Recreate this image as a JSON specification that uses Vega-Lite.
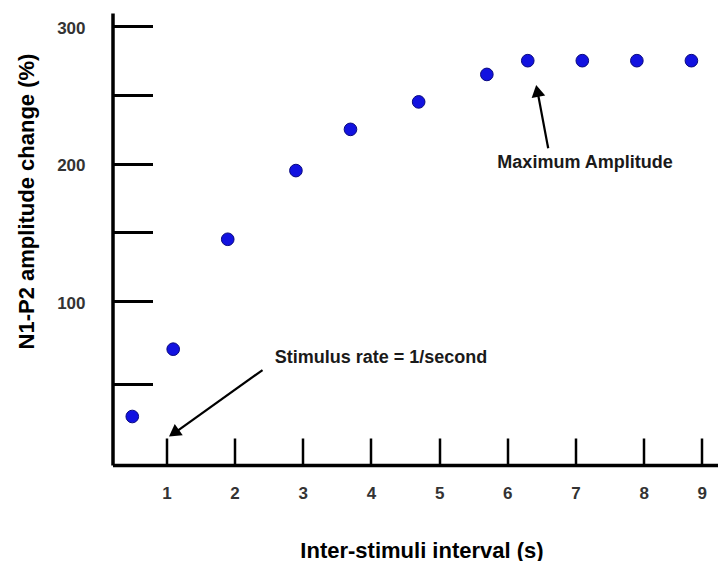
{
  "$schema": "https://vega.github.io/schema/vega-lite/v6.json",
  "width": 605.5,
  "height": 452,
  "autosize": "none",
  "padding": {"left": 112.5, "top": 13, "right": 0, "bottom": 96},
  "background": "white",
  "config": {"view": {"stroke": null}, "font": "Liberation Sans"},
  "encoding": {
    "x": {
      "field": "x", "type": "quantitative",
      "scale": {"domain": [0.21, 9.09], "nice": false, "zero": false},
      "axis": {
        "values": [1, 2, 3, 4, 5, 6, 7, 8, 8.85],
        "labelExpr": "datum.value > 8.5 ? '9' : datum.label",
        "grid": false,
        "tickSize": -27, "tickWidth": 2.5, "tickColor": "black",
        "domainColor": "black", "domainWidth": 3.5,
        "labelPadding": 47, "labelFont": "Liberation Sans", "labelFontSize": 17,
        "labelFontWeight": "bold", "labelColor": "#333333", "labelBaseline": "top",
        "labelFlush": false, "labelOverlap": false,
        "title": "Inter-stimuli interval (s)",
        "titleFont": "Liberation Sans", "titleFontSize": 22, "titleFontWeight": "bold", "titleColor": "black",
        "titleX": 309, "titleY": 92, "titleAlign": "center", "titleBaseline": "alphabetic"
      }
    },
    "y": {
      "field": "y", "type": "quantitative",
      "scale": {"domain": [-19.3, 309.7], "nice": false, "zero": false},
      "axis": {
        "values": [40, 100, 150, 200, 250, 300],
        "labelExpr": "(datum.value == 100 || datum.value == 200 || datum.value == 300) ? datum.label : ''",
        "grid": false,
        "tickSize": -40, "tickWidth": 3, "tickColor": "black",
        "domainColor": "black", "domainWidth": 3.5,
        "labelPadding": 67.5, "labelOffset": 2, "labelFont": "Liberation Sans", "labelFontSize": 17,
        "labelFontWeight": "bold", "labelColor": "#333333", "labelBaseline": "middle",
        "labelOverlap": false, "labelFlush": false,
        "title": "N1-P2 amplitude change (%)",
        "titleFont": "Liberation Sans", "titleFontSize": 22, "titleFontWeight": "bold", "titleColor": "black",
        "titleAngle": 270, "titleX": -79, "titleY": 188, "titleAlign": "center", "titleBaseline": "alphabetic"
      }
    }
  },
  "layer": [
    {
      "data": {"values": [
        {"x": 0.5, "y": 16},
        {"x": 1.1, "y": 65},
        {"x": 1.9, "y": 145},
        {"x": 2.9, "y": 195},
        {"x": 3.7, "y": 225},
        {"x": 4.7, "y": 245},
        {"x": 5.7, "y": 265},
        {"x": 6.3, "y": 275},
        {"x": 7.1, "y": 275},
        {"x": 7.9, "y": 275},
        {"x": 8.7, "y": 275}
      ]},
      "mark": {"type": "point", "filled": true, "size": 160, "fill": "#1212e0", "stroke": "#0a0a80", "strokeWidth": 1, "opacity": 1}
    },
    {
      "data": {"values": [
        {"x": 2.41, "y": 49.8, "x2": 1.08, "y2": 2.6},
        {"x": 6.60, "y": 211.3, "x2": 6.445, "y2": 252}
      ]},
      "mark": {"type": "rule", "color": "black", "strokeWidth": 2.2},
      "encoding": {
        "x2": {"field": "x2"},
        "y2": {"field": "y2"}
      }
    },
    {
      "data": {"values": [{"x": 1.11, "y": 3.9}]},
      "mark": {"type": "point", "shape": "triangle-up", "filled": true, "color": "black", "opacity": 1, "size": 190, "angle": 234.5}
    },
    {
      "data": {"values": [{"x": 6.44, "y": 253}]},
      "mark": {"type": "point", "shape": "triangle-up", "filled": true, "color": "black", "opacity": 1, "size": 190, "angle": 349}
    },
    {
      "data": {"values": [
        {"x": 4.147, "y": 58.5, "text": "Stimulus rate = 1/second"},
        {"x": 7.14, "y": 200.7, "text": "Maximum Amplitude"}
      ]},
      "mark": {"type": "text", "font": "Liberation Sans", "fontSize": 18, "fontWeight": "bold", "color": "#1a1a1a", "align": "center", "baseline": "middle"},
      "encoding": {"text": {"field": "text"}}
    }
  ]
}
